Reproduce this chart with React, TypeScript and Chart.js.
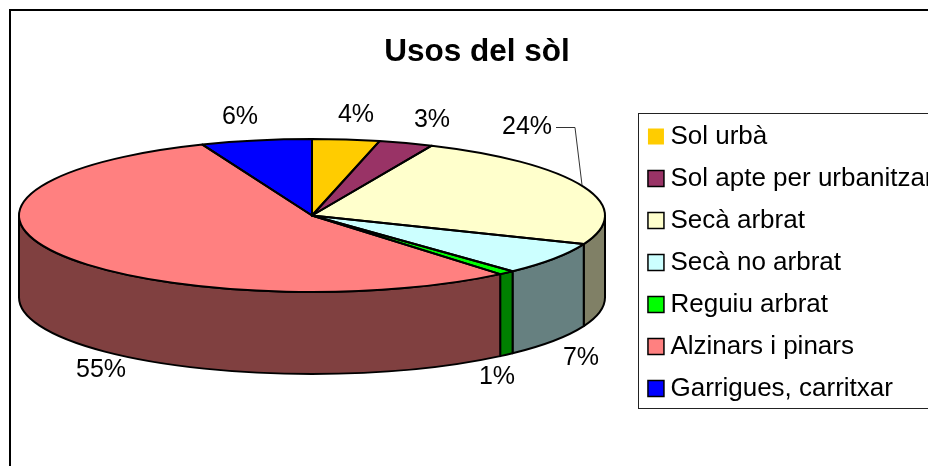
import React, { useEffect, useRef } from "react";
import { Chart, registerables } from "chart.js";

Chart.register(...registerables);

const categories = ["Sol urbà", "Sol apte per urbanitzar", "Secà arbrat", "Secà no arbrat", "Reguiu arbrat", "Alzinars i pinars", "Garrigues, carritxar"];
const values = [3.7, 3.0, 24.4, 6.9, 0.9, 55.0, 6.1];
const topColors = ["#FFCC00", "#993366", "#FFFFCC", "#CCFFFF", "#00FF00", "#FF8080", "#0000FF"];
const rimColors = ["#806600", "#4D1A33", "#808066", "#668080", "#008000", "#804040", "#000080"];
const swatchBorders = [0, 1.5, 1.5, 1.5, 1.5, 1.5, 1.5];
const labelAnchors: [number, number][] = [[356, 115], [432, 120], [527, 127], [581, 358], [497, 377], [101, 370], [240, 117]];

const FONT = '"Liberation Sans", Arial, sans-serif';
const CX = 312;
const CY = 215.5;
const RX = 293;
const RY = 76.5;
const DEPTH = 82;
const EDGE = 2;

const pie3d = {
  id: "pie3d",
  beforeDraw(chart: any) {
    const { ctx } = chart;
    ctx.save();
    ctx.fillStyle = "#fff";
    ctx.fillRect(0, 0, chart.width, chart.height);
    ctx.strokeStyle = "#000";
    ctx.lineWidth = 2;
    ctx.strokeRect(10, 10, chart.width + 20, chart.height + 20);
    ctx.lineWidth = 1;
    ctx.strokeStyle = "#222";
    ctx.strokeRect(638.5, 113.5, chart.width, 295);
    ctx.restore();
  },
  beforeDatasetsDraw(chart: any) {
    const { ctx } = chart;
    const arcs = chart.getDatasetMeta(0).data;
    ctx.save();
    ctx.lineWidth = EDGE;
    ctx.strokeStyle = "#000";
    ctx.lineJoin = "round";
    arcs.forEach((arc: any, i: number) => {
      const a0 = Math.max(arc.startAngle, 0);
      const a1 = Math.min(arc.endAngle, Math.PI);
      if (a1 <= a0) return;
      ctx.beginPath();
      ctx.ellipse(CX, CY, RX, RY, 0, a0, a1);
      ctx.ellipse(CX, CY + DEPTH, RX, RY, 0, a1, a0, true);
      ctx.closePath();
      ctx.fillStyle = rimColors[i];
      ctx.fill();
      ctx.stroke();
    });
    ctx.restore();
    const first = arcs[0];
    const k = first.outerRadius;
    ctx.save();
    ctx.translate(CX, CY);
    ctx.scale(RX / k, RY / k);
    ctx.translate(-first.x, -first.y);
  },
  afterDatasetsDraw(chart: any) {
    const { ctx } = chart;
    ctx.restore();
    const arcs = chart.getDatasetMeta(0).data;
    ctx.save();
    ctx.lineWidth = EDGE;
    ctx.strokeStyle = "#000";
    ctx.lineJoin = "round";
    arcs.forEach((arc: any) => {
      ctx.beginPath();
      ctx.moveTo(CX, CY);
      ctx.ellipse(CX, CY, RX, RY, 0, arc.startAngle, arc.endAngle);
      ctx.closePath();
      ctx.stroke();
    });
    ctx.fillStyle = "#000";
    ctx.font = `25px ${FONT}`;
    ctx.textAlign = "center";
    ctx.textBaseline = "middle";
    values.forEach((v, i) => ctx.fillText(`${Math.round(v)}%`, labelAnchors[i][0], labelAnchors[i][1]));
    ctx.lineWidth = 1;
    ctx.strokeStyle = "#333";
    ctx.beginPath();
    ctx.moveTo(556, 127.5);
    ctx.lineTo(575, 127.5);
    ctx.lineTo(582, 185);
    ctx.stroke();
    ctx.restore();
  },
};

export default function App() {
  const ref = useRef<HTMLCanvasElement>(null);
  useEffect(() => {
    document.body.style.margin = "0";
    const chart = new Chart(ref.current!, {
      type: "pie",
      data: {
        labels: categories,
        datasets: [{ data: values, backgroundColor: topColors, borderWidth: 0, clip: false } as any],
      },
      options: {
        animation: false,
        responsive: false,
        events: [],
        layout: { padding: { top: 0, right: 10.5, bottom: 0, left: 10.5 } },
        plugins: {
          tooltip: { enabled: false },
          title: {
            display: true,
            text: "Usos del sòl",
            color: "#000",
            font: { family: FONT, size: 31.5, weight: "bold", lineHeight: 1.2 },
            padding: { top: 33, bottom: 36.6 },
          },
          legend: {
            display: true,
            position: "right",
            align: "start",
            fullSize: false,
            labels: {
              color: "#000",
              font: { family: FONT, size: 26, lineHeight: 1 },
              padding: 16,
              boxWidth: 3,
              boxHeight: 16,
              usePointStyle: true,
              pointStyle: "rect",
              generateLabels: () =>
                categories.map((text, i) => ({
                  text,
                  index: i,
                  fillStyle: topColors[i],
                  strokeStyle: "#000",
                  lineWidth: swatchBorders[i],
                  pointStyle: "rect",
                  hidden: false,
                })),
            },
          },
        },
      } as any,
      plugins: [pie3d],
    });
    return () => chart.destroy();
  }, []);
  return (
    <div style={{ position: "relative", width: 928, height: 466, overflow: "hidden" }}>
      <canvas ref={ref} width={954} height={466} style={{ display: "block" }} />
    </div>
  );
}
